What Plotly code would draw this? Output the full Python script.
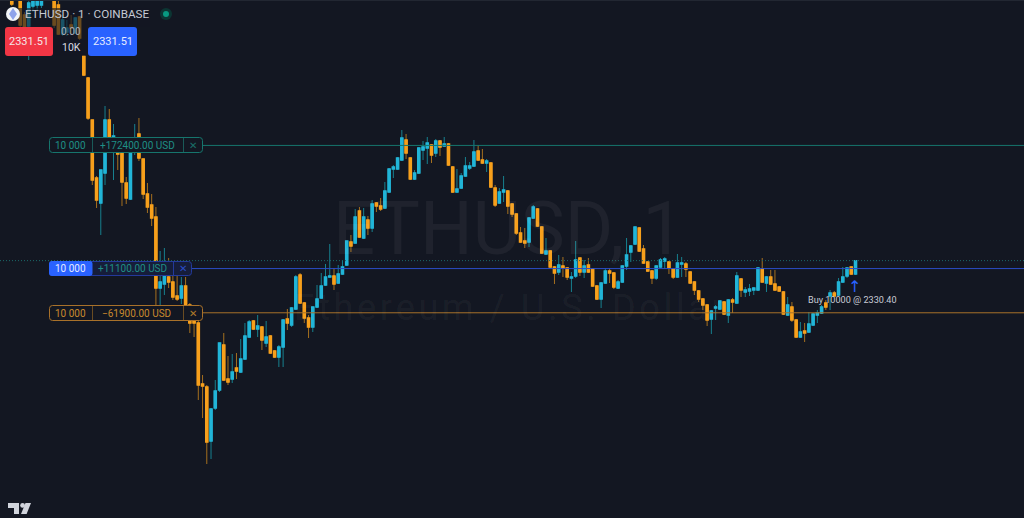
import numpy as np
import plotly.graph_objects as go

open_prices = [2369.40,2368.84,2368.56,2365.90,2364.36,2367.16,2367.30,2367.30,2368.56,2368.42,2368.00,2367.30,2363.24,2363.52,2364.50,2363.38,2365.62,2360.16,2357.08,2351.20,
2343.08,2339.58,2343.78,2351.20,2347.70,2347.28,2347.00,2342.38,2340.14,2347.00,2349.24,2345.74,2340.84,2339.30,2337.62,2327.68,2328.24,2329.22,2328.52,2326.56,
2326.28,2327.96,2325.30,2323.20,2322.78,2314.24,2313.82,2306.26,2310.88,2313.40,2319.70,2314.94,2314.94,2316.48,2315.92,2317.74,2320.82,2323.06,2321.94,2322.22,
2319.98,2320.96,2318.86,2318.02,2319.42,2323.34,2322.50,2324.74,2329.50,2325.58,2323.48,2322.22,2325.02,2326.28,2328.10,2329.22,2329.36,2328.38,2329.64,2330.90,
2334.12,2333.98,2338.46,2334.68,2337.20,2336.08,2339.58,2339.16,2338.88,2341.12,2344.34,2344.34,2345.60,2348.40,2345.88,2342.94,2343.78,2347.00,2347.28,2347.70,
2346.58,2348.26,2347.56,2347.84,2344.62,2341.12,2341.68,2343.36,2344.48,2344.76,2346.86,2345.60,2345.18,2345.18,2341.68,2339.58,2341.12,2341.26,2339.44,2338.04,
2335.38,2334.26,2334.12,2337.48,2338.74,2336.22,2332.44,2332.86,2330.62,2329.92,2330.76,2330.48,2329.08,2329.36,2331.88,2329.92,2330.90,2330.34,2327.96,2326.14,
2328.38,2330.06,2329.78,2327.68,2328.52,2330.76,2332.72,2333.84,2336.08,2333.14,2331.32,2330.06,2329.08,2330.62,2331.46,2331.32,2330.34,2329.22,2331.04,2331.04,
2329.92,2328.52,2327.26,2326.14,2325.30,2323.34,2324.88,2324.74,2325.72,2323.90,2326.00,2325.58,2328.94,2327.12,2327.26,2327.40,2327.40,2330.34,2328.38,2329.22,
2328.24,2327.82,2327.12,2323.90,2325.02,2323.20,2320.82,2321.66,2321.52,2322.50,2323.90,2324.18,2325.58,2326.56,2326.98,2326.70,2328.52,2329.36,2330.62,2329.64]

close_prices = [2367.44,2368.42,2364.50,2364.22,2367.58,2367.86,2368.00,2368.28,2368.14,2368.14,2364.50,2363.24,2365.20,2364.08,2364.08,2365.48,2362.68,2357.50,2351.48,2342.80,
2340.00,2344.20,2351.20,2347.00,2348.96,2346.44,2342.52,2340.28,2347.00,2348.40,2345.88,2340.84,2339.02,2337.48,2327.68,2328.52,2329.36,2328.52,2326.42,2326.14,
2327.96,2325.30,2322.78,2322.78,2314.10,2313.96,2306.12,2310.74,2313.26,2319.98,2314.80,2314.52,2315.92,2316.06,2317.74,2320.96,2322.92,2321.94,2322.36,2320.40,
2320.82,2318.58,2318.02,2319.42,2323.20,2322.78,2324.88,2329.22,2325.58,2323.48,2322.22,2325.02,2326.14,2327.96,2329.22,2329.36,2328.24,2329.64,2330.62,2334.26,
2333.56,2337.62,2334.82,2337.62,2336.08,2339.44,2339.16,2338.74,2341.26,2344.34,2344.62,2345.88,2348.68,2346.58,2342.94,2343.78,2347.28,2347.42,2347.98,2346.30,
2348.26,2347.42,2347.84,2344.90,2341.12,2341.54,2343.36,2344.76,2344.76,2346.72,2345.60,2345.18,2345.46,2341.82,2339.30,2341.12,2341.40,2339.16,2338.04,2335.38,
2334.12,2333.98,2337.48,2339.02,2336.36,2332.58,2332.86,2330.62,2329.78,2330.90,2330.48,2329.22,2329.22,2331.60,2329.92,2330.76,2329.92,2327.96,2326.14,2328.38,
2330.06,2329.78,2327.82,2328.52,2330.76,2332.30,2333.56,2336.22,2332.86,2331.18,2330.06,2329.08,2330.76,2331.60,2331.74,2330.48,2329.22,2331.18,2331.18,2330.34,
2328.38,2327.40,2326.14,2325.30,2323.20,2324.46,2325.02,2325.86,2324.04,2326.00,2325.72,2329.36,2327.40,2327.40,2327.54,2327.68,2330.48,2328.52,2329.22,2328.24,
2327.40,2327.26,2324.04,2325.30,2323.20,2320.82,2321.52,2321.38,2322.64,2324.04,2324.18,2325.02,2325.02,2326.98,2326.56,2328.52,2329.22,2330.48,2329.64,2331.51]

high_prices = [2369.68,2369.40,2368.70,2366.32,2368.00,2368.42,2368.70,2368.84,2368.84,2368.70,2368.42,2368.00,2365.90,2365.20,2365.90,2365.62,2365.76,2360.30,2357.22,2351.20,
2343.36,2344.20,2353.16,2352.74,2350.64,2348.68,2347.28,2343.22,2347.28,2350.64,2351.48,2345.74,2342.38,2340.84,2339.02,2332.86,2333.28,2331.88,2329.36,2329.36,
2329.22,2329.22,2325.58,2325.30,2323.20,2315.50,2314.10,2310.88,2314.80,2319.98,2321.38,2318.16,2318.44,2318.58,2320.54,2322.78,2323.20,2323.20,2323.90,2322.36,
2323.06,2321.10,2319.00,2319.70,2323.34,2324.74,2325.02,2329.50,2329.78,2325.72,2323.90,2325.02,2328.10,2329.78,2331.04,2333.84,2330.48,2330.90,2331.60,2334.26,
2335.10,2338.74,2339.02,2338.88,2337.76,2340.00,2339.72,2340.28,2342.52,2344.48,2344.90,2346.02,2349.80,2349.24,2346.02,2344.20,2347.42,2348.26,2348.82,2347.84,
2348.54,2348.40,2348.82,2347.98,2344.76,2344.34,2343.78,2346.02,2345.32,2348.40,2347.70,2347.14,2345.74,2345.32,2342.10,2341.68,2343.36,2341.40,2339.58,2338.18,
2336.22,2336.08,2337.62,2339.30,2338.88,2336.36,2334.68,2333.00,2330.76,2332.30,2332.02,2330.62,2329.92,2334.26,2331.88,2331.60,2331.88,2330.48,2328.10,2328.52,
2330.48,2330.48,2329.92,2328.80,2330.90,2334.68,2333.70,2336.22,2336.22,2333.70,2331.46,2330.20,2330.90,2331.88,2332.02,2331.46,2330.48,2332.44,2332.02,2331.32,
2330.06,2328.66,2327.40,2326.28,2325.44,2324.60,2325.30,2326.00,2325.86,2326.14,2326.28,2329.92,2329.08,2327.82,2328.24,2327.82,2330.62,2331.88,2329.36,2330.20,
2330.20,2327.96,2327.26,2326.42,2325.72,2323.34,2322.92,2322.78,2324.32,2324.18,2324.60,2325.30,2326.00,2327.40,2327.26,2329.08,2330.62,2330.62,2330.76,2331.51]

low_prices = [2367.16,2368.14,2364.08,2363.80,2359.60,2366.32,2366.60,2366.88,2367.86,2367.86,2364.08,2363.10,2362.96,2362.96,2363.10,2363.24,2362.40,2357.36,2351.20,2342.10,
2338.88,2335.10,2342.10,2346.86,2342.80,2344.20,2339.16,2339.44,2340.00,2346.30,2345.46,2340.14,2338.18,2336.36,2325.30,2325.30,2326.70,2327.68,2326.00,2325.86,
2325.44,2325.16,2321.38,2320.82,2312.00,2309.48,2303.04,2303.74,2310.60,2313.12,2314.66,2314.10,2314.38,2314.94,2315.78,2317.60,2320.68,2321.80,2320.82,2319.00,
2319.42,2318.44,2317.88,2316.62,2316.62,2321.80,2322.22,2324.60,2325.44,2322.78,2320.68,2321.52,2324.88,2326.14,2327.96,2329.08,2327.40,2328.24,2329.50,2330.76,
2332.72,2333.84,2334.68,2334.54,2335.10,2335.52,2338.32,2338.46,2338.74,2340.98,2343.08,2344.20,2345.46,2345.74,2342.80,2342.80,2343.64,2345.60,2345.04,2345.18,
2346.02,2346.16,2347.42,2344.76,2340.98,2340.98,2341.54,2343.22,2344.20,2344.62,2345.46,2345.04,2343.92,2341.68,2339.02,2339.44,2339.72,2338.04,2337.62,2335.10,
2333.98,2333.28,2333.42,2337.34,2336.22,2332.44,2332.30,2330.48,2328.24,2329.50,2329.22,2328.80,2327.12,2329.08,2329.36,2329.08,2329.78,2327.82,2326.00,2324.88,
2328.24,2328.38,2327.54,2327.54,2328.38,2330.20,2331.32,2333.70,2332.72,2331.04,2329.92,2328.24,2328.80,2330.48,2330.34,2329.64,2328.94,2329.08,2329.22,2329.22,
2328.24,2326.70,2325.72,2324.60,2322.36,2321.24,2323.20,2324.60,2323.90,2322.78,2324.18,2325.44,2326.42,2326.42,2326.56,2326.70,2327.26,2328.38,2327.12,2328.10,
2327.26,2327.12,2323.90,2323.76,2322.92,2320.68,2320.68,2320.12,2321.38,2322.36,2322.78,2324.04,2324.60,2324.60,2326.42,2326.56,2328.38,2329.08,2329.50,2329.50]

position_prices = [2347.64, 2330.40, 2324.21]
position_pnl = ["+172400.00 USD", "+11100.00 USD", "\u221261900.00 USD"]
position_qty = "10 000"
last_price = 2331.51

UP, DOWN = "#22b5d8", "#f7a01c"
UP_WICK, DOWN_WICK = "#17808f", "#a5701f"
BG = "#131722"
W, H = 1024, 518
FONT = "Roboto, sans-serif"

idx = np.arange(len(open_prices))
o, c = np.array(open_prices), np.array(close_prices)
fig = go.Figure()
fig.add_trace(go.Candlestick(
    x=idx, open=o, high=high_prices, low=low_prices, close=c, whiskerwidth=0,
    increasing=dict(line=dict(color=UP_WICK, width=1), fillcolor=UP_WICK),
    decreasing=dict(line=dict(color=DOWN_WICK, width=1), fillcolor=DOWN_WICK),
    hoverinfo="skip", showlegend=False))
# bright bodies on top, same open/close, wicks trimmed to the body
fig.add_trace(go.Candlestick(
    x=idx, open=o, high=np.maximum(o, c), low=np.minimum(o, c), close=c, whiskerwidth=0,
    increasing=dict(line=dict(color=UP, width=1.5), fillcolor=UP),
    decreasing=dict(line=dict(color=DOWN, width=1.5), fillcolor=DOWN),
    hoverinfo="skip", showlegend=False))

shapes, ann = [], []
def px(x): return x / W
def py(y): return 1 - y / H
def rrect(x0, y0, x1, y1, r, fill, line=None, lw=1):
    path = (f"M{px(x0+r)},{py(y0)} L{px(x1-r)},{py(y0)} Q{px(x1)},{py(y0)} {px(x1)},{py(y0+r)} "
            f"L{px(x1)},{py(y1-r)} Q{px(x1)},{py(y1)} {px(x1-r)},{py(y1)} L{px(x0+r)},{py(y1)} "
            f"Q{px(x0)},{py(y1)} {px(x0)},{py(y1-r)} L{px(x0)},{py(y0+r)} Q{px(x0)},{py(y0)} {px(x0+r)},{py(y0)} Z")
    shapes.append(dict(type="path", xref="paper", yref="paper", path=path, fillcolor=fill,
                       line=dict(color=line or "rgba(0,0,0,0)", width=lw if line else 0), layer="above"))
def vline(x, y0, y1, color):
    shapes.append(dict(type="line", xref="paper", yref="paper", x0=px(x), x1=px(x), y0=py(y0), y1=py(y1),
                       line=dict(color=color, width=1), layer="above"))
def text(x, y, s, size, color, anchor="center", family=FONT):
    ann.append(dict(xref="paper", yref="paper", x=px(x), y=py(y), text=s, showarrow=False,
                    xanchor=anchor, yanchor="middle", font=dict(size=size, color=color, family=family)))
def poly(pts, fill):
    path = "M" + " L".join(f"{px(a)},{py(b)}" for a, b in pts) + " Z"
    shapes.append(dict(type="path", xref="paper", yref="paper", path=path, fillcolor=fill,
                       line=dict(width=0), layer="above"))
def circle(cx, cy, r, fill):
    shapes.append(dict(type="circle", xref="paper", yref="paper", x0=px(cx-r), x1=px(cx+r),
                       y0=py(cy-r), y1=py(cy+r), fillcolor=fill, line=dict(width=0), layer="above"))

# watermark
text(508, 228, "ETHUSD, 1", 74, "rgba(255,255,255,0.05)")
text(509, 308, "\u200a".join("Ethereum / U.S. Dollar"), 36, "rgba(255,255,255,0.05)")

# price lines
shapes.append(dict(type="line", xref="paper", yref="y", x0=0, x1=1, y0=last_price, y1=last_price,
                   line=dict(color="#1b6a6a", width=1, dash="1px,2px"), layer="above"))
TEAL, BLUE, ORANGE = "#16756d", "#2a4cc4", "#a8712a"
for price, start, col in zip(position_prices, (202, 192, 202), (TEAL, BLUE, ORANGE)):
    shapes.append(dict(type="line", xref="paper", yref="y", x0=px(start), x1=1, y0=price, y1=price,
                       line=dict(color=col, width=1), layer="above"))

# position labels
rrect(49.5, 137.5, 202.5, 152.5, 3, BG, TEAL)
vline(92.5, 138, 152, "#1a5a58"); vline(183.5, 138, 152, "#1a5a58")
text(70.5, 145, position_qty, 10, "#1f8f85")
text(137.5, 145, position_pnl[0], 10, "#1f8f85")
text(192.5, 145, "\u2715", 9.5, "#1a6f68")

rrect(49.5, 261.5, 191.5, 275.5, 3, "#161d3a", "#23399a")
rrect(49, 261, 92.5, 276, 3, "#2962ff")
vline(173.5, 262, 275, "#23399a")
text(70.5, 268.5, position_qty, 10, "#e6ebff")
text(132, 268.5, position_pnl[1], 10, "#1f8f85")
text(182.5, 268.5, "\u2715", 9.5, "#2a4cc4")

rrect(49.5, 305.5, 202.5, 320.5, 3, BG, ORANGE)
vline(92.5, 306, 320, "#6a4c22"); vline(183.5, 306, 320, "#6a4c22")
text(70.5, 313, position_qty, 10, "#c98a2e")
text(136, 313, position_pnl[2], 10, "#c98a2e")
text(192.5, 313, "\u2715", 9.5, "#b07a2a")

# order marker
text(852.5, 300, "Buy 10000 @ 2330.40", 9.1, "#c8ccd6")
text(854.5, 286, "\u2191", 16, "#2962ff", family="DejaVu Sans")

# header, with the translucent plate that dims the candles behind the legend
rrect(0, 8, 150, 27, 0, "rgba(19,23,34,0.62)")
rrect(53, 27, 88, 56, 0, "rgba(19,23,34,0.62)")
rrect(0, 0, W, 1, 0, "#222732")
circle(13, 14, 7, "#f2f4f8")
poly([(13, 8), (17, 14), (13, 20), (9, 14)], "#8ea2ea")
text(23, 14, "ETHUSD \u00b7 1 \u00b7 COINBASE", 11.7, "#c5c9d3", "left")
circle(166, 14, 6, "#0c3533")
circle(166, 14, 3, "#089981")
rrect(5, 27, 53, 56, 3, "#f23645")
rrect(88, 27, 137, 56, 3, "#2962ff")
text(29, 41.5, f"{last_price:.2f}", 11, "#f5e6e8")
text(112.5, 41.5, f"{last_price:.2f}", 11, "#e6ebff")
text(71, 31.5, "0.00", 10, "#a8adb8")
text(71, 47.5, "10K", 10.5, "#d8dbe2")

# TradingView mark
poly([(8, 503), (19, 503), (19, 514), (14, 514), (14, 508), (8, 508)], "#d1d4dc")
circle(22.6, 505.4, 2.4, "#d1d4dc")
poly([(31, 503), (25.5, 503), (21, 514), (26.6, 514)], "#d1d4dc")

fig.update_layout(
    width=W, height=H, margin=dict(l=0, r=0, t=0, b=0), paper_bgcolor=BG, plot_bgcolor=BG,
    showlegend=False, shapes=shapes, annotations=ann,
    xaxis=dict(visible=False, range=[199 - 855 / 4.24 - 0.12, 199 + 169 / 4.24 - 0.12], rangeslider=dict(visible=False)),
    yaxis=dict(visible=False, range=[2368 - 0.14 * H, 2368]),
)
fig.write_html("out.html", config={"displayModeBar": False},
               post_script="document.body.style.margin='0';document.documentElement.style.background='#131722';")
